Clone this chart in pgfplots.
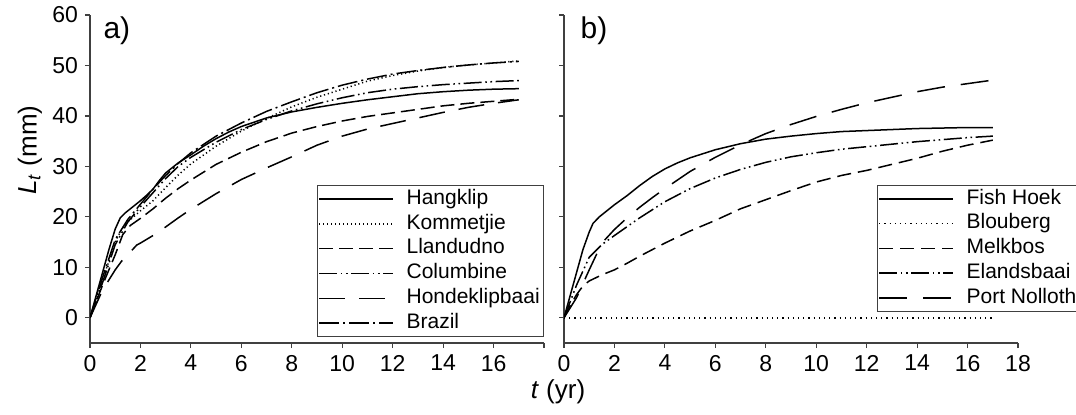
\documentclass[border=0pt]{standalone}
\usepackage{fontspec}
\setmainfont{Liberation Sans}
\usepackage{pgfplots}
\pgfplotsset{compat=1.18}

% 1 px of the reference = 0.5pt
\pgfplotsset{
  growth/.style={
    scale only axis, width=227pt, height=164pt,
    axis lines*=left,
    axis line style={black!75, line width=0.7pt},
    tick style={black!75, line width=0.6pt},
    tick align=outside, major tick length=2.5pt,
    xmin=0, xmax=18, ymin=-5, ymax=60,
    xtick={0,2,...,18}, ytick={0,10,...,60},
    ticklabel style={font=\fontsize{11.5}{13}\selectfont},
    /pgf/number format/assume math mode=true,
    every axis plot/.append style={black, line width=0.75pt, line join=round},
    legend cell align=left,
    legend image code/.code={\draw[##1] (0pt,0pt) -- (37pt,0pt);},
    legend style={draw=black!75, line width=0.6pt, fill=white,
      font=\fontsize{10.5}{12}\selectfont, inner sep=0.5pt, row sep=0pt,
      nodes={inner sep=1.35pt, text height=7.5pt, text depth=2.2pt},
      /tikz/every odd column/.append style={column sep=5pt}},
  },
  dotline/.style={dash pattern=on 0.6pt off 1.4pt},
  shortdash/.style={dash pattern=on 7pt off 3pt},
  dashdotdot/.style={dash pattern=on 9pt off 1.8pt on 0.8pt off 1.8pt on 0.8pt off 1.8pt},
  longdash/.style={dash pattern=on 13pt off 7pt},
  longdashdot/.style={dash pattern=on 10pt off 2pt on 1pt off 2pt},
}

\begin{document}
\begin{tikzpicture}
\useasboundingbox (0,0) rectangle (538pt,207pt);

% panel a
\begin{axis}[growth, at={(45pt,35.5pt)}, anchor=south west,
  xticklabels={0,2,4,6,8,10,12,14,16,{}},
  legend style={at={(1,0.018)}, anchor=south east}]
\addplot[solid] coordinates {
  (0,0) (0.25,4.5) (0.5,9) (0.75,13.5) (1,17.6) (1.2,19.8) (1.4,20.8) (1.7,22)
  (2,23.2) (2.25,24.3) (2.5,25.5) (2.75,27.2) (3,28.7) (3.5,30.7) (4,32.3)
  (4.5,34) (5,35.5) (5.5,36.8) (6,37.9) (7,39.6) (8,40.8) (9,41.7) (10,42.5)
  (11,43.2) (12,43.8) (13,44.4) (14,44.8) (15,45.1) (16,45.3) (17,45.4)};
\addlegendentry{Hangklip}
\addplot[dotline] coordinates {
  (0,0) (0.5,7.5) (1,15) (1.25,17.5) (1.5,19) (2,21.2) (2.5,23.2) (3,25.8)
  (3.5,28.3) (4,30.5) (5,34) (6,37) (7,39.5) (8,41.8) (9,43.7) (10,45.3)
  (11,46.9) (12,48) (13,48.9) (14,49.6) (15,50.1) (16,50.5) (17,50.9)};
\addlegendentry{Kommetjie}
\addplot[shortdash] coordinates {
  (0,0) (0.5,6.5) (1,12.5) (1.3,16.5) (1.6,18.3) (2,19.7) (2.5,21.6) (3,23.7)
  (3.5,25.6) (4,27.3) (5,30.4) (6,32.8) (7,34.9) (8,36.6) (9,37.9) (10,39)
  (11,39.9) (12,40.6) (13,41.3) (14,42) (15,42.5) (16,42.9) (17,43.3)};
\addlegendentry{Llandudno}
\addplot[dashdotdot] coordinates {
  (0,0) (0.5,7) (1,14.5) (1.5,19) (2,22) (2.5,24.8) (3,27.6) (3.5,30) (4,31.8)
  (5,34.8) (6,37.3) (7,39.3) (8,41) (9,42.4) (10,43.6) (11,44.6) (12,45.3)
  (13,45.8) (14,46.2) (15,46.5) (16,46.8) (17,47)};
\addlegendentry{Columbine}
\addplot[longdash] coordinates {
  (0,0) (0.5,5.5) (1,9.5) (1.25,11.2) (1.5,12.5) (1.85,14.4) (2,14.8) (2.5,16.3)
  (3,18) (3.5,19.8) (4,21.5) (5,24.6) (6,27.4) (7,29.7) (8,31.9) (9,34.2)
  (10,36) (11,37.4) (12,38.5) (13,39.6) (14,40.7) (15,41.7) (16,42.5) (17,43.2)};
\addlegendentry{Hondeklipbaai}
\addplot[longdashdot] coordinates {
  (0,0) (0.5,8) (1,15.5) (1.5,19.5) (2,22.5) (2.5,25.5) (3,28.2) (3.5,30.6)
  (4,32.7) (5,36) (6,38.6) (7,40.9) (8,42.8) (9,44.6) (10,46.1) (11,47.3)
  (12,48.3) (13,49) (14,49.6) (15,50.1) (16,50.5) (17,50.8)};
\addlegendentry{Brazil}
\node[anchor=north west, inner sep=0pt, font=\fontsize{15}{17}\selectfont]
  at (axis description cs:0.029,0.995) {a)};
\end{axis}

% panel b
\begin{axis}[growth, at={(282pt,35.5pt)}, anchor=south west,
  yticklabels={},
  legend style={at={(1.138,0.0945)}, anchor=south east}]
\addplot[solid] coordinates {
  (0,0) (0.25,4.5) (0.5,9) (0.75,13.5) (1,17) (1.15,18.7) (1.4,20) (1.7,21.2)
  (2,22.4) (2.5,24.2) (3,26.2) (3.5,28) (4,29.5) (4.5,30.7) (5,31.7) (5.5,32.5)
  (6,33.3) (7,34.5) (8,35.4) (9,36) (10,36.5) (11,36.9) (12,37.1) (13,37.3)
  (14,37.5) (15,37.6) (16,37.7) (17,37.7)};
\addlegendentry{Fish Hoek}
\addplot[dash pattern=on 0.6pt off 2pt] coordinates {(0,0) (17,0)};
\addlegendentry{Blouberg}
\addplot[dash pattern=on 7pt off 3.5pt] coordinates {
  (0,0) (0.25,2.5) (0.5,4.6) (0.75,6.3) (1,7.3) (1.5,8.5) (2,9.5) (2.5,10.8)
  (3,12.2) (3.5,13.5) (4,14.8) (5,17.2) (6,19.3) (7,21.6) (8,23.4) (9,25.2)
  (10,26.9) (11,28.2) (12,29.2) (13,30.4) (14,31.6) (15,33) (16,34.2) (17,35.2)};
\addlegendentry{Melkbos}
\addplot[dashdotdot] coordinates {
  (0,0) (0.5,6.5) (1,12) (1.5,14.5) (2,16.3) (3,19.8) (4,23) (5,25.6) (6,27.7)
  (7,29.4) (8,30.8) (9,31.9) (10,32.7) (11,33.4) (12,33.9) (13,34.4) (14,34.9)
  (15,35.3) (16,35.7) (17,36)};
\addlegendentry{Elandsbaai}
\addplot[dash pattern=on 14pt off 8pt] coordinates {
  (0,0) (0.5,4) (1,9.5) (1.5,14.8) (2,17.5) (2.5,19.8) (3,21.9) (3.5,23.8)
  (4,25.6) (4.5,27.3) (5,29) (6,31.8) (7,34.3) (8,36.5) (9,38.3) (10,39.9)
  (11,41.3) (12,42.6) (13,43.7) (14,44.8) (15,45.7) (16,46.4) (17,47.1)};
\addlegendentry{Port Nolloth}
\node[anchor=north west, inner sep=0pt, font=\fontsize{15}{17}\selectfont]
  at (axis description cs:0.036,0.995) {b)};
\end{axis}

\node[rotate=90, font=\fontsize{13}{15}\selectfont] at (15pt,132pt)
  {\textit{L}\textsubscript{\textit{t}} (mm)};
\node[font=\fontsize{13}{15}\selectfont] at (279pt,11pt) {\textit{t} (yr)};
\end{tikzpicture}
\end{document}
